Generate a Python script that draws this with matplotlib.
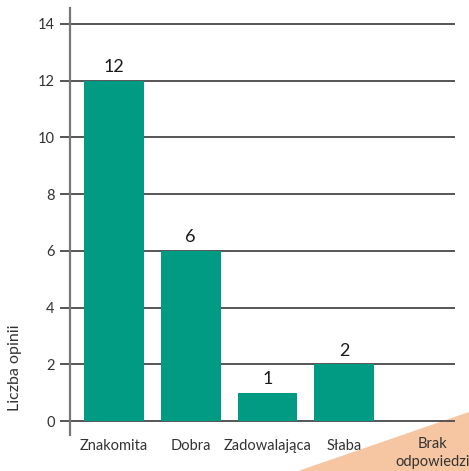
import matplotlib.pyplot as plt
import matplotlib.transforms as mtransforms
from matplotlib.patches import Polygon
import numpy as np

# dane
kategorie = ['Znakomita', 'Dobra', 'Zadowalająca', 'Słaba', 'Brak\nodpowiedzi']
liczba_opinii = [12, 6, 1, 2, 0]
etykiety_y = [0, 2, 4, 6, 8, 10, 12, 14]

plt.rcParams['font.family'] = ['Lato', 'DejaVu Sans']

kolor_slupka = '#009b82'
kolor_siatki = '#555555'

fig = plt.figure(figsize=(4.69, 4.71), dpi=100)

# dekoracyjny trójkąt w prawym dolnym rogu
trojkat = Polygon([(298 / 469, 0), (1, 0), (1, (471 - 412) / 471)],
                  closed=True, transform=fig.transFigure,
                  facecolor='#f6c6a2', edgecolor='none', zorder=-5)
fig.patches.append(trojkat)

ax = fig.add_axes([70 / 469, (471 - 435) / 471, (455 - 70) / 469, (435 - 8) / 471])
ax.patch.set_alpha(0)

x = np.arange(len(kategorie))
ax.set_xlim(-0.57, 4.44)
ax.set_ylim(-0.49, 14.56)

for y in etykiety_y:
    ax.axhline(y, color=kolor_siatki, linewidth=1.4, zorder=1)

ax.bar(x, liczba_opinii, width=0.78, color=kolor_slupka, zorder=2)

for xi, v in zip(x, liczba_opinii):
    if v > 0:
        ax.text(xi, v + 0.2, str(v), ha='center', va='bottom',
                fontsize=13, color='#1a1a1a')

ax.set_yticks(etykiety_y)
ax.set_yticklabels([str(v) for v in etykiety_y], fontsize=10.5, color='#333333')
ax.tick_params(axis='y', length=7, width=1.4, color=kolor_siatki, pad=4)

# etykiety osi X (ostatnia przesunięta lekko w prawo)
ax.set_xticks(x)
ax.set_xticklabels(kategorie[:-1] + [''], fontsize=10.5, color='#333333')
ax.tick_params(axis='x', length=0, pad=3)
przes = mtransforms.ScaledTranslation(11 / 100, -2 / 100, fig.dpi_scale_trans)
ax.text(x[-1], 0, kategorie[-1], transform=ax.get_xaxis_transform() + przes,
        ha='center', va='top', fontsize=10.5, color='#333333',
        linespacing=1.4, clip_on=False)

for s in ['top', 'right', 'bottom']:
    ax.spines[s].set_visible(False)
ax.spines['left'].set_color('#777777')
ax.spines['left'].set_linewidth(1.6)

fig.text(15 / 469, (471 - 368) / 471, 'Liczba opinii', rotation=90,
         ha='center', va='center', fontsize=11.5, color='#333333')

plt.savefig('out.png', dpi=100)
plt.close()
